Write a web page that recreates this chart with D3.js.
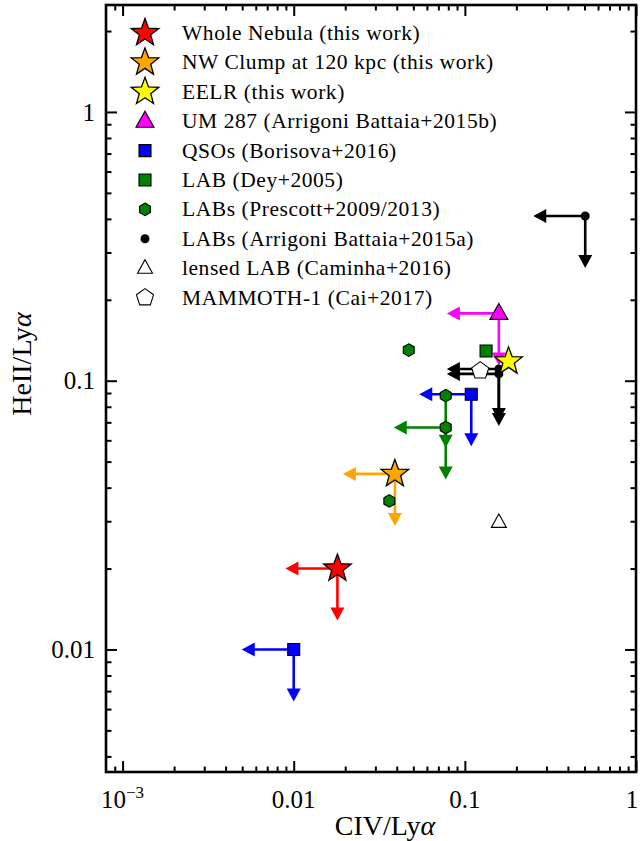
<!DOCTYPE html>
<html>
<head>
<meta charset="utf-8">
<script src="https://cdn.jsdelivr.net/npm/d3@7"></script>
<style>
  html, body { margin: 0; padding: 0; background: #fff; }
  svg { display: block; }
  text { font-family: "Liberation Serif", "DejaVu Serif", serif; fill: #000; }
</style>
</head>
<body>
<svg id="chart" width="640" height="841"></svg>
<script>
// ---- data: [CIV/Lya, HeII/Lya] per object, plus upper-limit flags [civ, heii]
const wholeNebula   = [[0.018, 0.020]];
const wholeLimits   = [[1, 1]];
const nwClump       = [[0.039, 0.045]];
const nwLimits      = [[1, 1]];
const eelr          = [[0.18, 0.118]];
const eelrLimits    = [[0, 0]];
const um287         = [[0.158, 0.178]];
const um287Limits   = [[1, 1]];
const qsos          = [[0.010, 0.010], [0.109, 0.089]];
const qsoLimits     = [[1, 1], [1, 1]];
const labDey        = [[0.133, 0.129]];
const deyLimits     = [[0, 0]];
const labsPrescott  = [[0.047, 0.130], [0.0773, 0.088], [0.0773, 0.067], [0.0362, 0.0357]];
const prescottLimits= [[0, 0], [0, 1], [1, 1], [0, 0]];
const labsArrigoni  = [[0.505, 0.41], [0.158, 0.1105], [0.158, 0.106]];
const arrigoniLimits= [[1, 1], [1, 1], [1, 1]];
const lensedLab     = [[0.158, 0.0297]];
const lensedLimits  = [[0, 0]];
const mammoth1      = [[0.123, 0.109]];
const mammothLimits = [[0, 0]];

const legendLabels = [
  "Whole Nebula (this work)",
  "NW Clump at 120 kpc (this work)",
  "EELR (this work)",
  "UM 287 (Arrigoni Battaia+2015b)",
  "QSOs (Borisova+2016)",
  "LAB (Dey+2005)",
  "LABs (Prescott+2009/2013)",
  "LABs (Arrigoni Battaia+2015a)",
  "lensed LAB (Caminha+2016)",
  "MAMMOTH-1 (Cai+2017)"
];

const xMajorTicks = [0.001, 0.01, 0.1, 1];
const xTickLabels = ["10^-3", "0.01", "0.1", "1"];
const yMajorTicks = [0.01, 0.1, 1];
const yTickLabels = ["0.01", "0.1", "1"];

// ---- series styling (drawing order = legend order)
const series = [
  { pts: wholeNebula, lim: wholeLimits, shape: "star", fill: "#ff0000", stroke: "#000", color: "#ff0000" },
  { pts: nwClump, lim: nwLimits, shape: "star", fill: "#ffa500", stroke: "#000", color: "#ffa500" },
  { pts: eelr, lim: eelrLimits, shape: "star", fill: "#ffff00", stroke: "#000", color: "#000" },
  { pts: um287, lim: um287Limits, shape: "triangle", fill: "#ff00ff", stroke: "#000", color: "#ff00ff" },
  { pts: qsos, lim: qsoLimits, shape: "square", fill: "#0000ff", stroke: "#000", color: "#0000ff" },
  { pts: labDey, lim: deyLimits, shape: "square", fill: "#008000", stroke: "#000", color: "#008000" },
  { pts: labsPrescott, lim: prescottLimits, shape: "hexagon", fill: "#008000", stroke: "#000", color: "#008000" },
  { pts: labsArrigoni, lim: arrigoniLimits, shape: "dot", fill: "#000", stroke: "#000", color: "#000" },
  { pts: lensedLab, lim: lensedLimits, shape: "openTriangle", fill: "#fff", stroke: "#000", color: "#000" },
  { pts: mammoth1, lim: mammothLimits, shape: "pentagon", fill: "#fff", stroke: "#000", color: "#000" }
];

// ---- layout
const M = { left: 106, right: 636, top: 5, bottom: 772 };
const svg = d3.select("#chart");

const x = d3.scaleLog().domain([8e-4, 1]).range([M.left, M.right]);
const y = d3.scaleLog().domain([0.0035, 2.5]).range([M.bottom, M.top]);

// ---- marker shapes
function polygon(n, r, rot) {
  const pts = [];
  for (let i = 0; i < n; i++) {
    const a = rot + i * 2 * Math.PI / n;
    pts.push([r * Math.sin(a), -r * Math.cos(a)]);
  }
  return "M" + pts.map(p => p[0].toFixed(2) + "," + p[1].toFixed(2)).join("L") + "Z";
}
function starPath(R, r) {
  const pts = [];
  for (let i = 0; i < 10; i++) {
    const a = i * Math.PI / 5;
    const rr = i % 2 === 0 ? R : r;
    pts.push([rr * Math.sin(a), -rr * Math.cos(a)]);
  }
  return "M" + pts.map(p => p[0].toFixed(2) + "," + p[1].toFixed(2)).join("L") + "Z";
}
function markerPath(shape) {
  switch (shape) {
    case "star": return starPath(14.5, 6.0);
    case "triangle": return "M0,-10L9,6L-9,6Z";
    case "openTriangle": return "M0,-8.5L7.5,5L-7.5,5Z";
    case "square": return "M-6,-6H6V6H-6Z";
    case "hexagon": return polygon(6, 6.3, 0);
    case "pentagon": return polygon(5, 9, 0);
    case "dot": return d3.symbol(d3.symbolCircle, Math.PI * 4.5 * 4.5)();
  }
}

// ---- axes frame and ticks (ticks point inward on all four sides)
function xMinor() {
  const v = [9e-4];
  [0.001, 0.01, 0.1].forEach(d => { for (let k = 2; k <= 9; k++) v.push(d * k); });
  return v;
}
function yMinor() {
  const v = [];
  [0.001, 0.01, 0.1].forEach(d => { for (let k = 2; k <= 9; k++) v.push(d * k); });
  v.push(2);
  return v.filter(t => t >= 0.0035 && t <= 2.5);
}

const axG = svg.append("g").attr("class", "axes");
function tickAxis(gen, tv, size, transform) {
  const g = axG.append("g").attr("transform", transform)
    .call(gen.tickValues(tv).tickSize(-size).tickSizeOuter(0).tickFormat(""));
  g.select(".domain").remove();
  g.selectAll(".tick line").attr("stroke", "#000").attr("stroke-width", 2);
  return g;
}
tickAxis(d3.axisBottom(x), xMajorTicks, 11, `translate(0,${M.bottom})`);
tickAxis(d3.axisBottom(x), xMinor(), 5.5, `translate(0,${M.bottom})`);
tickAxis(d3.axisTop(x), xMajorTicks, 11, `translate(0,${M.top})`);
tickAxis(d3.axisTop(x), xMinor(), 5.5, `translate(0,${M.top})`);
tickAxis(d3.axisLeft(y), yMajorTicks, 11, `translate(${M.left},0)`);
tickAxis(d3.axisLeft(y), yMinor(), 5.5, `translate(${M.left},0)`);
tickAxis(d3.axisRight(y), yMajorTicks, 11, `translate(${M.right},0)`);
tickAxis(d3.axisRight(y), yMinor(), 5.5, `translate(${M.right},0)`);

// tick labels (the rightmost one is kept inside the page)
const xl = axG.append("g").attr("class", "x-labels");
xMajorTicks.forEach((t, i) => {
  const lab = xTickLabels[i];
  const tx = xl.append("text").attr("x", Math.min(x(t), 632)).attr("y", 808)
    .attr("text-anchor", "middle").attr("font-size", 25);
  if (lab.includes("^")) {
    const [base, exp] = lab.split("^");
    tx.append("tspan").text(base);
    tx.append("tspan").attr("dy", -10).attr("font-size", 17).text(exp.replace("-", "\u2212"));
  } else {
    tx.text(lab);
  }
});
const yl = axG.append("g").attr("class", "y-labels");
yMajorTicks.forEach((t, i) => {
  yl.append("text").attr("x", 95).attr("y", y(t)).attr("dy", "0.35em")
    .attr("text-anchor", "end").attr("font-size", 25).text(yTickLabels[i]);
});

// axis titles
const xt = svg.append("text").attr("x", (M.left + M.right) / 2 + 14).attr("y", 835)
  .attr("text-anchor", "middle").attr("font-size", 28);
xt.append("tspan").text("CIV/Ly");
xt.append("tspan").attr("font-style", "italic").text("\u03b1");
const yt = svg.append("text").attr("transform", "translate(31,364) rotate(-90)")
  .attr("text-anchor", "middle").attr("font-size", 28);
yt.append("tspan").text("HeII/Ly");
yt.append("tspan").attr("font-style", "italic").text("\u03b1");

// ---- plot contents
const plot = svg.append("g").attr("class", "plot");
const ARROW = 52;   // upper-limit arrow length in px
const HEAD_L = 13, HEAD_W = 7;

function drawArrow(g, x0, y0, dir, color) {
  // dir: "left" or "down"
  let head;
  if (dir === "left") {
    const x1 = x0 - ARROW;
    head = `M${x1},${y0}L${x1 + HEAD_L},${y0 - HEAD_W}L${x1 + HEAD_L},${y0 + HEAD_W}Z`;
    g.append("line").attr("x1", x0).attr("y1", y0).attr("x2", x1 + HEAD_L - 1).attr("y2", y0);
  } else {
    const y1 = y0 + ARROW;
    head = `M${x0},${y1}L${x0 - HEAD_W},${y1 - HEAD_L}L${x0 + HEAD_W},${y1 - HEAD_L}Z`;
    g.append("line").attr("x1", x0).attr("y1", y0).attr("x2", x0).attr("y2", y1 - HEAD_L + 1);
  }
  g.selectAll("line").attr("stroke", color).attr("stroke-width", 2.6);
  g.append("path").attr("d", head).attr("fill", color).attr("stroke", "none");
}

// limit arrows below the markers
const arrowLayer = plot.append("g").attr("class", "limits");
series.forEach(s => {
  s.pts.forEach((p, i) => {
    const [lx, ly] = s.lim[i];
    const cx = x(p[0]), cy = y(p[1]);
    if (lx) drawArrow(arrowLayer.append("g"), cx, cy, "left", s.color);
    if (ly) drawArrow(arrowLayer.append("g"), cx, cy, "down", s.color);
  });
});

// markers, with the EELR star drawn last so it sits on top of the cluster
const order = [0, 1, 3, 4, 5, 6, 7, 8, 9, 2];
const markLayer = plot.append("g").attr("class", "markers");
order.forEach(k => {
  const s = series[k];
  markLayer.selectAll(null).data(s.pts).join("path")
    .attr("d", markerPath(s.shape))
    .attr("transform", d => `translate(${x(d[0])},${y(d[1])})`)
    .attr("fill", s.fill)
    .attr("stroke", s.shape === "dot" ? "none" : s.stroke)
    .attr("stroke-width", s.shape === "star" ? 1.3 : 1.1)
    .attr("stroke-linejoin", "miter");
});

// ---- legend
const leg = svg.append("g").attr("class", "legend");
series.forEach((s, i) => {
  const yy = 33 + i * 29.4;
  leg.append("path").attr("d", markerPath(s.shape))
    .attr("transform", `translate(145,${yy})`)
    .attr("fill", s.fill)
    .attr("stroke", s.shape === "dot" ? "none" : s.stroke)
    .attr("stroke-width", s.shape === "star" ? 1.3 : 1.1);
  leg.append("text").attr("x", 182).attr("y", yy).attr("dy", "0.33em")
    .attr("font-size", 21.5).attr("letter-spacing", 0.55).text(legendLabels[i]);
});

// frame on top
svg.append("rect").attr("x", M.left).attr("y", M.top)
  .attr("width", M.right - M.left).attr("height", M.bottom - M.top)
  .attr("fill", "none").attr("stroke", "#000").attr("stroke-width", 2.6);
</script>
</body>
</html>
